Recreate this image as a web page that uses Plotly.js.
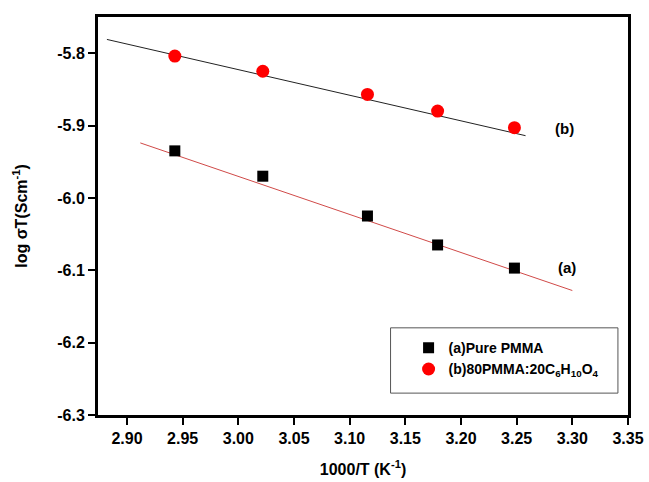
<!DOCTYPE html>
<html>
<head>
<meta charset="utf-8">
<script src="https://cdn.plot.ly/plotly-3.0.1.min.js"></script>
<style>html,body{margin:0;padding:0;background:#fff;}#chart{width:649px;height:482px;}</style>
</head>
<body>
<div id="chart"></div>
<script>
// Data
const invT = [2.943, 3.022, 3.116, 3.179, 3.248];
const pureA = [-5.935, -5.970, -6.025, -6.065, -6.097];
const blendB = [-5.804, -5.825, -5.857, -5.880, -5.903];
const fitAx = [2.912, 3.300];
const fitAy = [-5.924, -6.128];
const fitBx = [2.882, 3.258];
const fitBy = [-5.781, -5.914];
const nameA = "(a)Pure PMMA";
const nameB = "(b)80PMMA:20C<sub>6</sub>H<sub>10</sub>O<sub>4</sub>";
const xTicks = [2.90, 2.95, 3.00, 3.05, 3.10, 3.15, 3.20, 3.25, 3.30, 3.35];
const yTicks = [-5.8, -5.9, -6.0, -6.1, -6.2, -6.3];

const font = "Liberation Sans, Arial, sans-serif";
const traces = [
  {x: fitAx, y: fitAy, mode: 'lines', line: {color: '#d04a48', width: 1}, showlegend: false, hoverinfo: 'skip'},
  {x: fitBx, y: fitBy, mode: 'lines', line: {color: '#222', width: 1}, showlegend: false, hoverinfo: 'skip'},
  {x: invT, y: pureA, mode: 'markers', name: nameA, marker: {symbol: 'square', size: 11, color: '#000'}},
  {x: invT, y: blendB, mode: 'markers', name: nameB, marker: {symbol: 'circle', size: 13, color: '#ff0000'}}
];
const layout = {
  width: 649, height: 482,
  margin: {l: 98, r: 21, t: 17, b: 67},
  paper_bgcolor: '#fff', plot_bgcolor: '#fff',
  font: {family: font, color: '#000'},
  xaxis: {
    range: [2.874, 3.35], tickvals: xTicks, ticktext: xTicks.map(v => v.toFixed(2)),
    ticks: 'outside', ticklen: 7, tickwidth: 2, tickcolor: '#000',
    showline: true, linewidth: 3, linecolor: '#000', mirror: true,
    showgrid: false, zeroline: false,
    tickfont: {family: font, size: 16, weight: 'bold'},
    title: {text: "1000/T (K<sup>-1</sup>)", font: {family: font, size: 16, weight: 'bold'}, standoff: 18}
  },
  yaxis: {
    range: [-6.3, -5.75], tickvals: yTicks, ticktext: yTicks.map(v => v.toFixed(1)),
    ticks: 'outside', ticklen: 7, tickwidth: 2, tickcolor: '#000',
    showline: true, linewidth: 3, linecolor: '#000', mirror: true,
    showgrid: false, zeroline: false,
    tickfont: {family: font, size: 16, weight: 'bold'},
    title: {text: "log σT(Scm<sup>-1</sup>)", font: {family: font, size: 16, weight: 'bold'}, standoff: 26}
  },
  shapes: [
    {type: 'rect', xref: 'paper', yref: 'paper', x0: 0.552, x1: 0.981, y0: 0.055, y1: 0.219,
     line: {color: '#555', width: 1}, fillcolor: 'rgba(0,0,0,0)', layer: 'below'}
  ],
  legend: {
    x: 0.586, y: 0.208, xanchor: 'left', yanchor: 'top',
    borderwidth: 0, bgcolor: 'rgba(0,0,0,0)',
    font: {family: font, size: 14, weight: 'bold'},
    itemwidth: 30, tracegroupgap: 0
  },
  annotations: [
    {x: 3.293, y: -5.904, xref: 'x', yref: 'y', text: '(b)', showarrow: false, font: {family: font, size: 15, weight: 'bold'}},
    {x: 3.295, y: -6.096, xref: 'x', yref: 'y', text: '(a)', showarrow: false, font: {family: font, size: 15, weight: 'bold'}}
  ]
};
Plotly.newPlot('chart', traces, layout, {displayModeBar: false, staticPlot: true});
</script>
</body>
</html>
